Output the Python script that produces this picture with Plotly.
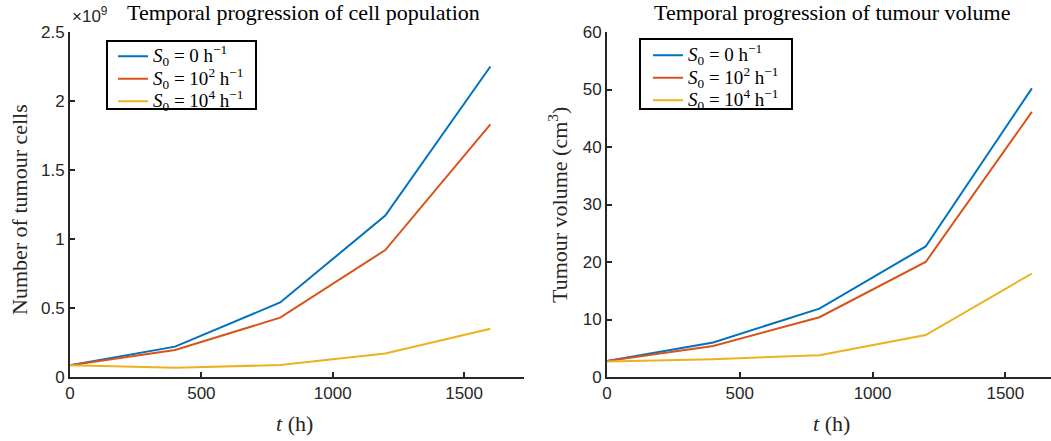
import plotly.graph_objects as go

# Time points (h)
time_h = [0, 400, 800, 1200, 1600]

# Number of tumour cells for each S0
cells_s0_0 = [0.085e9, 0.22e9, 0.54e9, 1.17e9, 2.25e9]
cells_s0_1e2 = [0.085e9, 0.196e9, 0.43e9, 0.92e9, 1.83e9]
cells_s0_1e4 = [0.085e9, 0.067e9, 0.087e9, 0.17e9, 0.35e9]

# Tumour volume (cm^3) for each S0
vol_s0_0 = [2.8, 6.0, 11.9, 22.7, 50.2]
vol_s0_1e2 = [2.8, 5.4, 10.4, 20.0, 46.1]
vol_s0_1e4 = [2.7, 3.1, 3.8, 7.3, 18.0]

series_names = [
    "<i>S</i><sub>0</sub> = 0 h<sup>−1</sup>",
    "<i>S</i><sub>0</sub> = 10<sup>2</sup> h<sup>−1</sup>",
    "<i>S</i><sub>0</sub> = 10<sup>4</sup> h<sup>−1</sup>",
]
colors = ["#0072BD", "#D95319", "#EDB120"]

x_ticks = [0, 500, 1000, 1500]
cell_ticks = [0, 0.5, 1, 1.5, 2, 2.5]
vol_ticks = [0, 10, 20, 30, 40, 50, 60]

W, H = 1051, 441
SERIF = "Liberation Serif"
SANS = "Liberation Sans"
AX = "#262626"


def legend_label(s):
    return f"<span style='font-size:19px'>{s}</span>"


fig = go.Figure()

scale = 1e9
for name, col, ys in zip(series_names, colors, [cells_s0_0, cells_s0_1e2, cells_s0_1e4]):
    fig.add_trace(go.Scatter(
        x=time_h, y=[v / scale for v in ys], mode="lines", name=legend_label(name),
        line=dict(color=col, width=2), xaxis="x", yaxis="y", legend="legend",
    ))
for name, col, ys in zip(series_names, colors, [vol_s0_0, vol_s0_1e2, vol_s0_1e4]):
    fig.add_trace(go.Scatter(
        x=time_h, y=ys, mode="lines", name=legend_label(name),
        line=dict(color=col, width=2), xaxis="x2", yaxis="y2", legend="legend2",
    ))

# pixel geometry of the two axes
L1, R1 = 70, 524
L2 = 607
X2_MAX = 1672
TOP, BOT = 32, 377


def px(x):
    return x / W


def py(y):
    return 1 - y / H


axis_common = dict(
    showline=True, linecolor=AX, linewidth=2, ticks="inside", ticklen=5,
    tickwidth=2, tickcolor=AX, showgrid=False, zeroline=False, mirror=False,
    automargin=False, tickfont=dict(family=SANS, size=17, color=AX),
)

legend_common = dict(
    xanchor="left", yanchor="top", borderwidth=0, bgcolor="rgba(0,0,0,0)",
    font=dict(family=SERIF, size=15, color="#000000"),
    tracegroupgap=0, itemwidth=30,
)

fig.update_layout(
    width=W, height=H, margin=dict(l=0, r=0, t=0, b=0, autoexpand=False),
    paper_bgcolor="white", plot_bgcolor="white",
    xaxis=dict(domain=[px(L1), px(R1)], range=[0, 1728], tickvals=x_ticks,
               anchor="y", **axis_common),
    yaxis=dict(domain=[py(BOT), py(TOP)], range=[0, 2.5], tickvals=cell_ticks,
               ticktext=[f"{v:g}" for v in cell_ticks], anchor="x", **axis_common),
    xaxis2=dict(domain=[px(L2), 1.0], range=[0, X2_MAX], tickvals=x_ticks,
                anchor="y2", **axis_common),
    yaxis2=dict(domain=[py(BOT), py(TOP)], range=[0, 60], tickvals=vol_ticks,
                anchor="x2", **axis_common),
    legend=dict(x=px(113), y=py(40), **legend_common),
    legend2=dict(x=px(648), y=py(39), **legend_common),
    showlegend=True,
)

# legend frames
for (x0, y0, x1, y1) in [(107, 41, 256, 109), (640, 39, 792, 109)]:
    fig.add_shape(type="rect", xref="paper", yref="paper",
                  x0=px(x0), x1=px(x1), y0=py(y1), y1=py(y0),
                  line=dict(color="#000000", width=2), fillcolor="white",
                  layer="below")

title_font = dict(family=SERIF, size=22, color="#000000")
label_font = dict(family=SERIF, size=22, color="#262626")

annotations = [
    dict(text="Temporal progression of cell population", x=px(303), y=py(13),
         font=title_font),
    dict(text="Temporal progression of tumour volume", x=px(832), y=py(13),
         font=title_font),
    dict(text="×10<sup>9</sup>", x=px(70), y=py(15), xanchor="left",
         font=dict(family=SANS, size=17, color=AX)),
    dict(text="Number of tumour cells", x=px(19), y=py(210),
         textangle=-90, font=label_font),
    dict(text="Tumour volume (cm<sup>3</sup>)", x=px(558), y=py(205),
         textangle=-90, font=label_font),
    dict(text="<i>t</i> (h)", x=px(294), y=py(423), font=label_font),
    dict(text="<i>t</i> (h)", x=px(831), y=py(423), font=label_font),
]
for a in annotations:
    a.update(xref="paper", yref="paper", showarrow=False)
    a.setdefault("xanchor", "center")
    a.setdefault("yanchor", "middle")
fig.update_layout(annotations=annotations)

fig.write_html("out.html")
